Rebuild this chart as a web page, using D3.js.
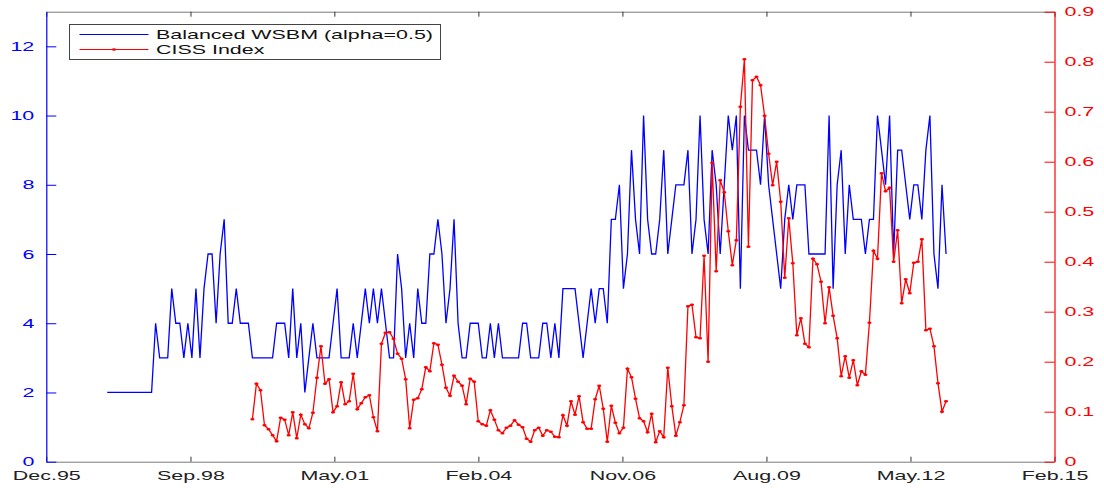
<!DOCTYPE html>
<html>
<head>
<meta charset="utf-8">
<script src="https://cdn.jsdelivr.net/npm/d3@7/dist/d3.min.js"></script>
<style>
  html, body { margin: 0; padding: 0; background: #fff; }
  svg text { font-family: "Liberation Sans", Arial, Helvetica, sans-serif; font-size: 13px; }
</style>
</head>
<body>
<svg id="chart" width="1104" height="488"></svg>
<script>
// Axis ticks: every 1000 days from Dec 1995 to Feb 2015
const tickDates = ["1995-12-07", "1998-09-03", "2001-05-29", "2004-02-23",
                   "2006-11-19", "2009-08-15", "2012-05-11", "2015-02-05"];
const leftTicks = [0, 2, 4, 6, 8, 10, 12];
const rightTicks = [0, 0.1, 0.2, 0.3, 0.4, 0.5, 0.6, 0.7, 0.8, 0.9];

// Both series are sampled every 28 days
const stepDays = 28;
const wsbmStart = "1997-02-02";
const cissStart = "1999-11-07";

// Number of groups found by the balanced WSBM (alpha = 0.5)
const wsbm = [
  2,2,2,2,2,2,2,2,2,2, 2,2,4,3,3,3,5,4,4,3,
  4,3,5,3,5,6,6,4,6,7, 4,4,5,4,4,4,3,3,3,3,
  3,3,4,4,4,3,5,3,4,2, 3,4,3,3,3,3,4,5,3,3,
  3,4,3,4,5,4,5,4,5,4, 3,3,6,5,3,4,3,5,4,4,
  6,6,7,6,4,5,7,4,3,3, 4,4,4,3,3,4,3,4,3,3,
  3,3,3,4,4,3,3,3,4,4, 3,4,3,5,5,5,5,4,3,4,
  5,4,5,5,4,7,7,8,5,6, 9,7,6,10,7,6,6,7,9,6,
  7,8,8,8,9,6,7,10,7,6, 9,8,6,8,10,9,10,5,10,9,
  9,9,8,10,8,7,6,5,7,8, 7,8,8,8,6,6,6,6,6,10,
  5,8,9,6,8,7,7,7,6,7, 7,10,9,8,10,6,9,9,8,7,
  8,8,7,9,10,6,5,8,6
];

// Composite Indicator of Systemic Stress
const ciss = [
  .085,.156,.143,.073,.065,.053,.041,.088,.084,.053,
  .099,.047,.094,.075,.067,.098,.168,.231,.156,.165,
  .099,.111,.159,.115,.121,.176,.105,.117,.129,.133,
  .089,.061,.236,.258,.259,.246,.216,.206,.165,.067,
  .124,.127,.145,.189,.181,.237,.234,.194,.148,.132,
  .172,.160,.152,.115,.166,.160,.081,.075,.072,.103,
  .084,.063,.057,.068,.072,.083,.074,.069,.046,.040,
  .063,.068,.052,.063,.060,.050,.049,.093,.072,.121,
  .094,.131,.079,.066,.066,.125,.152,.106,.040,.112,
  .078,.057,.068,.186,.169,.126,.087,.081,.059,.096,
  .039,.061,.049,.188,.111,.052,.079,.113,.311,.314,
  .249,.247,.412,.200,.598,.381,.563,.539,.461,.393,
  .443,.710,.805,.430,.763,.770,.753,.692,.616,.553,
  .600,.520,.368,.487,.397,.253,.287,.236,.229,.406,
  .395,.360,.277,.349,.292,.247,.171,.211,.168,.203,
  .153,.181,.174,.278,.422,.406,.577,.541,.548,.400,
  .463,.317,.365,.337,.398,.400,.445,.263,.266,.231,
  .157,.100,.121
];

const seriesNames = ["Balanced WSBM (alpha=0.5)", "CISS Index"];

const parse = d3.utcParse("%Y-%m-%d");
const fmt = d3.utcFormat("%b.%y");
const withDates = (vals, start) =>
  vals.map((v, i) => ({ date: d3.utcDay.offset(parse(start), i * stepDays), value: v }));
const wsbmData = withDates(wsbm, wsbmStart);
const cissData = withDates(ciss, cissStart);

const W = 1104, H = 488;
const margin = { top: 11.7, right: 49.5, bottom: 26.3, left: 46.3 };
const iw = W - margin.left - margin.right;
const ih = H - margin.top - margin.bottom;
const sx = 1.65; // wide lettering

const blue = "#0000ff", red = "#ff0000", grey = "#7a7a7a";

const svg = d3.select("#chart");
const g = svg.append("g").attr("transform", `translate(${margin.left},${margin.top})`);

const tickVals = tickDates.map(parse);
const x = d3.scaleUtc().domain([tickVals[0], tickVals[tickVals.length - 1]]).range([0, iw]);
const yL = d3.scaleLinear().domain([0, 13]).range([ih, 0]);
const yR = d3.scaleLinear().domain([0, 0.9]).range([ih, 0]);

// Bottom axis
const gx = g.append("g").attr("transform", `translate(0,${ih})`)
  .call(d3.axisBottom(x).tickValues(tickVals).tickFormat(fmt).tickSizeInner(-5).tickSizeOuter(0).tickPadding(0));
gx.select(".domain").attr("stroke", grey);
gx.selectAll(".tick line").attr("stroke", "#333");
gx.selectAll(".tick text").attr("y", 0).attr("dy", 0)
  .attr("transform", `translate(0,18.3) scale(${sx},1)`).attr("fill", "#222");

// Top axis (mirrored ticks)
const gt = g.append("g")
  .call(d3.axisTop(x).tickValues(tickVals).tickFormat("").tickSizeInner(-5).tickSizeOuter(0));
gt.select(".domain").attr("stroke", grey);
gt.selectAll(".tick line").attr("stroke", "#333");

// Left axis
const gl = g.append("g")
  .call(d3.axisLeft(yL).tickValues(leftTicks).tickFormat(d3.format("d")).tickSizeInner(-10).tickSizeOuter(0).tickPadding(0));
gl.select(".domain").attr("stroke", blue).attr("stroke-width", 1.2);
gl.selectAll(".tick line").attr("stroke", blue);
gl.selectAll(".tick text").attr("x", 0).attr("fill", blue)
  .attr("transform", `translate(-12,0) scale(${sx},1)`);

// Right axis
const gr = g.append("g").attr("transform", `translate(${iw},0)`)
  .call(d3.axisRight(yR).tickValues(rightTicks).tickFormat(d => d === 0 ? "0" : d3.format(".1f")(d)).tickSizeInner(-10).tickSizeOuter(0).tickPadding(0));
gr.select(".domain").attr("stroke", red).attr("stroke-width", 1.2);
gr.selectAll(".tick line").attr("stroke", red);
gr.selectAll(".tick text").attr("x", 0).attr("fill", red)
  .attr("transform", `translate(10,0) scale(${sx},1)`);

svg.selectAll(".tick text").style("font-size", "13px")
  .style("font-family", '"Liberation Sans", Arial, Helvetica, sans-serif');

// Series
const lineL = d3.line().x(d => x(d.date)).y(d => yL(d.value));
const lineR = d3.line().x(d => x(d.date)).y(d => yR(d.value));

g.append("path").datum(wsbmData).attr("d", lineL)
  .attr("fill", "none").attr("stroke", blue).attr("stroke-width", 1.3);

g.append("path").datum(cissData).attr("d", lineR)
  .attr("fill", "none").attr("stroke", red).attr("stroke-width", 1.3);
g.append("g").selectAll("ellipse").data(cissData).join("ellipse")
  .attr("cx", d => x(d.date)).attr("cy", d => yR(d.value))
  .attr("rx", 2.1).attr("ry", 1.3).attr("fill", red);

// Legend
const lg = svg.append("g").attr("transform", "translate(69.5,24.5)");
lg.append("rect").attr("width", 371).attr("height", 35)
  .attr("fill", "#fff").attr("stroke", "#444").attr("stroke-width", 1);
const rows = [{ name: seriesNames[0], color: blue, y: 10, marker: false },
              { name: seriesNames[1], color: red, y: 25, marker: true }];
rows.forEach(r => {
  lg.append("line").attr("x1", 10).attr("x2", 79).attr("y1", r.y).attr("y2", r.y)
    .attr("stroke", r.color).attr("stroke-width", 1.1);
  if (r.marker) {
    lg.append("ellipse").attr("cx", 44.5).attr("cy", r.y).attr("rx", 2.1).attr("ry", 1.3).attr("fill", r.color);
  }
  lg.append("text").text(r.name).attr("fill", "#111").attr("dy", "0.35em")
    .attr("transform", `translate(86.5,${r.y}) scale(${sx},1)`);
});
</script>
</body>
</html>
